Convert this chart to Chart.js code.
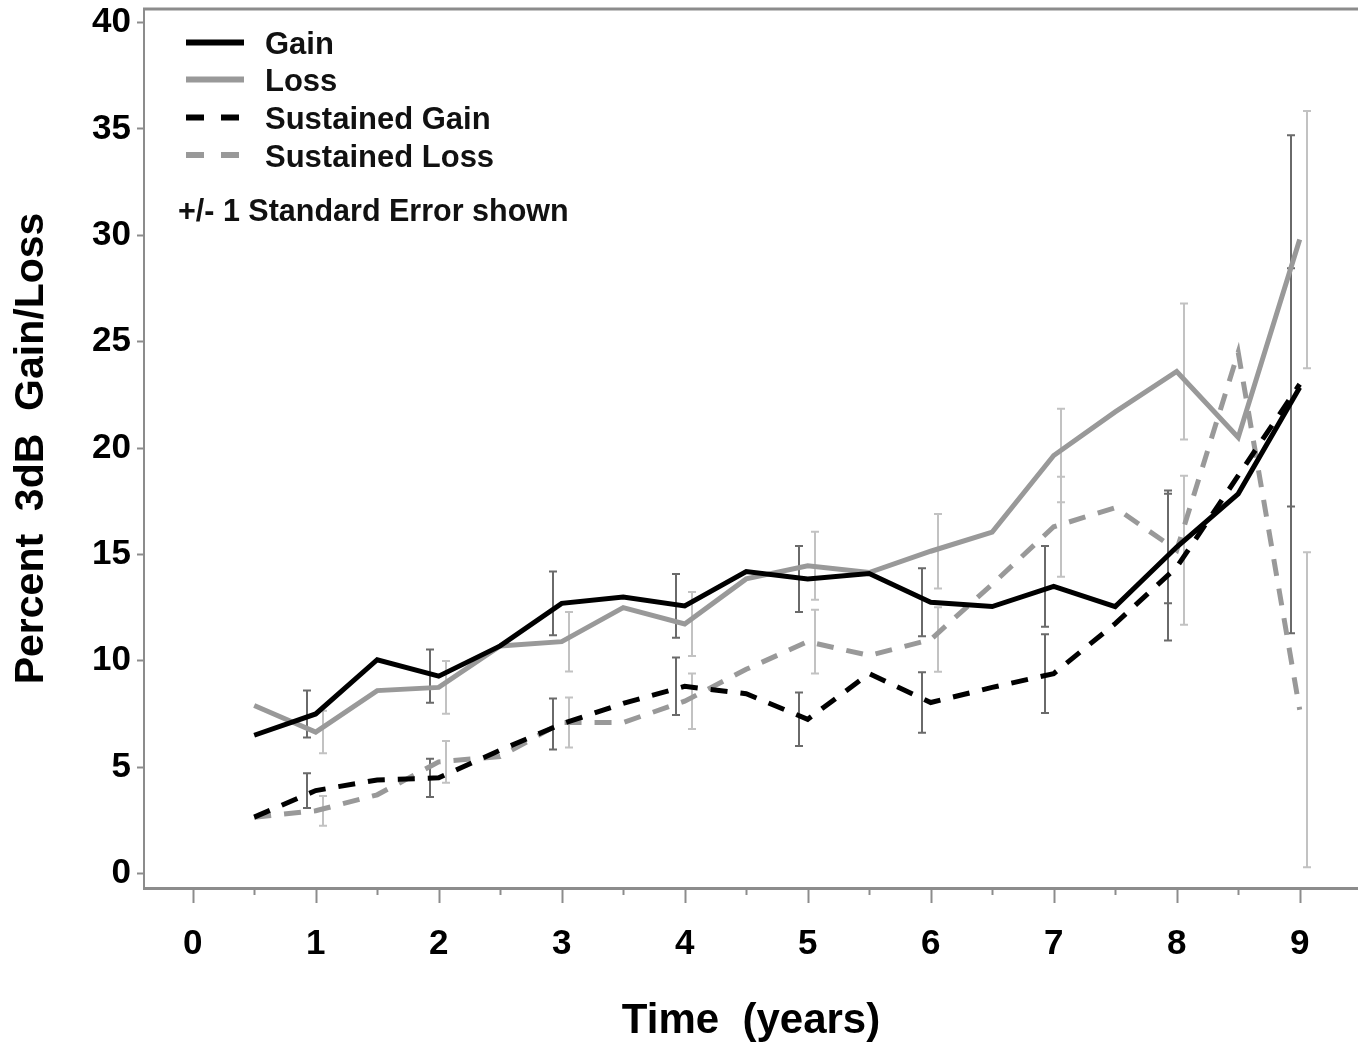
<!DOCTYPE html>
<html>
<head>
<meta charset="utf-8">
<script src="https://cdn.jsdelivr.net/npm/chart.js@4.4.0/dist/chart.umd.min.js"></script>
<style>
    html, body { margin: 0; padding: 0; background: #fff; }
    #grafico { display: block; }
</style>
</head>
<body>
<canvas id="grafico" width="1358" height="1047"></canvas>
<script>
// Time points (every half year)
const years = [0.5, 1, 1.5, 2, 2.5, 3, 3.5, 4, 4.5, 5, 5.5, 6, 6.5, 7, 7.5, 8, 8.5, 9];

// Percent 3dB gain/loss per series
const gain = [6.5, 7.5, 10.05, 9.28, 10.7, 12.7, 13.0, 12.58, 14.2, 13.85, 14.1, 12.75, 12.55, 13.5, 12.55, 15.35, 17.85, 22.85];
const loss = [7.9, 6.65, 8.6, 8.75, 10.7, 10.9, 12.5, 11.73, 13.85, 14.47, 14.15, 15.15, 16.05, 19.65, 21.7, 23.6, 20.5, 29.8];
const sustainedGain = [2.65, 3.9, 4.4, 4.5, 5.8, 7.03, 8.0, 8.8, 8.45, 7.25, 9.4, 8.04, 8.75, 9.4, 11.75, 14.4, 18.7, 23.0];
const sustainedLoss = [2.65, 2.95, 3.7, 5.25, 5.5, 7.1, 7.1, 8.1, 9.6, 10.9, 10.25, 11.0, 13.6, 16.3, 17.2, 15.2, 24.5, 7.7];

// Standard errors, shown at whole years only
const seYears = [1, 2, 3, 4, 5, 6, 7, 8, 9];
const gainSE = [1.1, 1.25, 1.5, 1.5, 1.55, 1.6, 1.9, 2.65, 5.6];
const lossSE = [1.0, 1.24, 1.4, 1.5, 1.6, 1.75, 2.2, 3.2, 6.05];
const sustainedGainSE = [0.82, 0.9, 1.2, 1.35, 1.26, 1.42, 1.85, 3.45, 11.7];
const sustainedLossSE = [0.7, 0.98, 1.17, 1.3, 1.5, 1.52, 2.35, 3.5, 7.4];

// Axis ticks
const xTickLabels = ['0', '1', '2', '3', '4', '5', '6', '7', '8', '9'];
const yTickValues = [0, 5, 10, 15, 20, 25, 30, 35, 40];

const FONT = '"Liberation Sans", Arial, Helvetica, sans-serif';
const DARK_BAR = '#6a6a6a';
const LIGHT_BAR = '#c2c2c2';
const AXIS_GRAY = '#8c8c8c';

function puntos(serie) {
    return years.map((x, i) => ({ x, y: serie[i] }));
}

// Error bars behind the lines
const errorBarsPlugin = {
    id: 'errorBars',
    beforeDatasetsDraw(chart) {
        const { ctx, scales: { x, y } } = chart;
        const sets = [
            { series: gain, se: gainSE, color: DARK_BAR, offset: -0.07 },
            { series: sustainedGain, se: sustainedGainSE, color: DARK_BAR, offset: -0.07 },
            { series: loss, se: lossSE, color: LIGHT_BAR, offset: 0.06 },
            { series: sustainedLoss, se: sustainedLossSE, color: LIGHT_BAR, offset: 0.06 }
        ];
        ctx.save();
        ctx.lineWidth = 2;
        sets.forEach(set => {
            ctx.strokeStyle = set.color;
            set.se.forEach((se, i) => {
                const year = seYears[i];
                const mean = set.series[years.indexOf(year)];
                const px = Math.round(x.getPixelForValue(year + set.offset));
                const top = y.getPixelForValue(mean + se);
                const bottom = y.getPixelForValue(mean - se);
                ctx.beginPath();
                ctx.moveTo(px, top);
                ctx.lineTo(px, bottom);
                ctx.moveTo(px - 4, top);
                ctx.lineTo(px + 4, top);
                ctx.moveTo(px - 4, bottom);
                ctx.lineTo(px + 4, bottom);
                ctx.stroke();
            });
        });
        ctx.restore();
    }
};

// Top frame line, x tick marks and the legend box
const decorPlugin = {
    id: 'decor',
    afterDraw(chart) {
        const { ctx, chartArea, scales: { x } } = chart;
        ctx.save();
        ctx.strokeStyle = AXIS_GRAY;
        ctx.lineWidth = 3;
        ctx.beginPath();
        ctx.moveTo(chartArea.left - 1, chartArea.top);
        ctx.lineTo(chartArea.right, chartArea.top);
        ctx.stroke();

        ctx.lineWidth = 2;
        for (let v = 0; v <= 9; v += 0.5) {
            const px = Math.round(x.getPixelForValue(v)) + 0.5;
            const len = Number.isInteger(v) ? 14 : 6;
            ctx.beginPath();
            ctx.moveTo(px, chartArea.bottom + 1);
            ctx.lineTo(px, chartArea.bottom + 1 + len);
            ctx.stroke();
        }

        // Legend
        const rows = [
            { label: 'Gain', color: '#000', dash: [] },
            { label: 'Loss', color: '#999', dash: [] },
            { label: 'Sustained Gain', color: '#000', dash: [18, 17] },
            { label: 'Sustained Loss', color: '#999', dash: [18, 17] }
        ];
        const yRows = [42.5, 79.5, 117.5, 155];
        ctx.lineWidth = 6;
        ctx.lineCap = 'butt';
        ctx.font = 'bold 31px ' + FONT;
        ctx.textBaseline = 'alphabetic';
        ctx.textAlign = 'left';
        rows.forEach((r, i) => {
            ctx.strokeStyle = r.color;
            ctx.setLineDash(r.dash);
            ctx.beginPath();
            ctx.moveTo(186, yRows[i]);
            ctx.lineTo(244, yRows[i]);
            ctx.stroke();
            ctx.fillStyle = '#111';
            ctx.fillText(r.label, 265, yRows[i] + 11.5);
        });
        ctx.setLineDash([]);
        ctx.font = 'bold 30.5px ' + FONT;
        ctx.fillText('+/- 1 Standard Error shown', 178, 221);
        ctx.restore();
    }
};

const ctxGrafico = document.getElementById('grafico').getContext('2d');
const chartInstance = new Chart(ctxGrafico, {
    type: 'line',
    data: {
        datasets: [
            {
                label: 'Gain',
                data: puntos(gain),
                borderColor: '#000',
                borderWidth: 5,
                pointRadius: 0,
                tension: 0
            },
            {
                label: 'Loss',
                data: puntos(loss),
                borderColor: '#999',
                borderWidth: 5,
                pointRadius: 0,
                tension: 0
            },
            {
                label: 'Sustained Gain',
                data: puntos(sustainedGain),
                borderColor: '#000',
                borderWidth: 5,
                borderDash: [17, 13],
                pointRadius: 0,
                tension: 0
            },
            {
                label: 'Sustained Loss',
                data: puntos(sustainedLoss),
                borderColor: '#999',
                borderWidth: 5,
                borderDash: [17, 13],
                pointRadius: 0,
                tension: 0
            }
        ]
    },
    options: {
        responsive: false,
        animation: false,
        devicePixelRatio: 1,
        layout: { padding: { top: 9, right: 0, left: 0, bottom: 0 } },
        plugins: {
            legend: { display: false },
            tooltip: { enabled: false }
        },
        scales: {
            x: {
                type: 'linear',
                min: -0.396,
                max: 9.474,
                afterBuildTicks: scale => {
                    scale.ticks = xTickLabels.map((_, i) => ({ value: i }));
                },
                afterFit: scale => {
                    scale.height = 159;
                    scale.paddingLeft = 0;
                    scale.paddingRight = 0;
                },
                grid: { display: false },
                border: { display: true, color: AXIS_GRAY, width: 3 },
                ticks: {
                    padding: 27,
                    maxRotation: 0,
                    autoSkip: false,
                    color: '#000',
                    font: { family: FONT, size: 35, weight: 'bold' },
                    callback: (value, index) => xTickLabels[index]
                },
                title: {
                    display: true,
                    text: 'Time  (years)',
                    color: '#000',
                    font: { family: FONT, size: 42, weight: 'bold', lineHeight: 1.2 },
                    padding: { top: 0, bottom: 0 }
                }
            },
            y: {
                min: -0.68,
                max: 40.64,
                afterBuildTicks: scale => {
                    scale.ticks = yTickValues.map(v => ({ value: v }));
                },
                afterFit: scale => {
                    scale.width = 144;
                    scale.paddingTop = 0;
                    scale.paddingBottom = 0;
                },
                grid: {
                    drawOnChartArea: false,
                    tickLength: 7,
                    tickWidth: 2,
                    color: AXIS_GRAY
                },
                border: { display: true, color: AXIS_GRAY, width: 2 },
                ticks: {
                    padding: 6,
                    color: '#000',
                    font: { family: FONT, size: 35, weight: 'bold' },
                    callback: value => String(value)
                },
                title: {
                    display: true,
                    text: 'Percent  3dB  Gain/Loss',
                    color: '#000',
                    font: { family: FONT, size: 41, weight: 'bold', lineHeight: 1.2 },
                    padding: { top: 7, bottom: 0 }
                }
            }
        }
    },
    plugins: [errorBarsPlugin, decorPlugin]
});
</script>
</body>
</html>
